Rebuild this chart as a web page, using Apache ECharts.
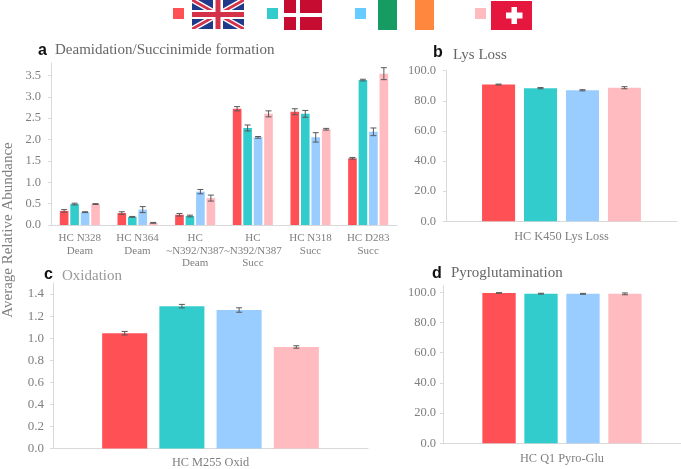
<!DOCTYPE html>
<html><head><meta charset="utf-8">
<style>html,body{margin:0;padding:0;background:#fff}#c{width:681px;height:469px}</style>
<script src="https://cdn.jsdelivr.net/npm/echarts@6/dist/echarts.min.js"></script>
</head><body><div id="c"></div>
<script>
const seriesNames = ['UK', 'Denmark', 'Ireland', 'Switzerland'];
const colors = ['#FF5056', '#33CCCC', '#99CCFF', '#FFBBC0'];
const legendColors = ['#FF5056', '#33CCCC', '#66CCFF', '#FFBBC0'];

const catsA = ['HC N328\nDeam', 'HC N364\nDeam', 'HC\n~N392/N387\nDeam', 'HC\n~N392/N387\nSucc', 'HC N318\nSucc', 'HC D283\nSucc'];
const ukA = [0.33, 0.28, 0.24, 2.72, 2.65, 1.56];
const dkA = [0.49, 0.19, 0.21, 2.27, 2.60, 3.39];
const ieA = [0.30, 0.36, 0.78, 2.05, 2.05, 2.18];
const chA = [0.49, 0.05, 0.63, 2.60, 2.24, 3.54];
const ukErrA = [0.03, 0.03, 0.03, 0.05, 0.07, 0.02];
const dkErrA = [0.02, 0.01, 0.02, 0.07, 0.08, 0.02];
const ieErrA = [0.01, 0.07, 0.05, 0.02, 0.11, 0.09];
const chErrA = [0.01, 0.01, 0.07, 0.07, 0.02, 0.14];
const ticksA = [0, 0.5, 1, 1.5, 2, 2.5, 3, 3.5];

const catsB = ['HC K450 Lys Loss'];
const valsB = [90.8, 88.4, 87.0, 88.7];
const errB = [0.3, 0.4, 0.4, 0.7];
const ticksB = [0, 20, 40, 60, 80, 100];

const catsC = ['HC M255 Oxid'];
const valsC = [1.045, 1.29, 1.255, 0.92];
const errC = [0.016, 0.016, 0.02, 0.011];
const ticksC = [0, 0.2, 0.4, 0.6, 0.8, 1, 1.2, 1.4];

const catsD = ['HC Q1 Pyro-Glu'];
const valsD = [99.6, 99.1, 99.0, 99.0];
const errD = [0.2, 0.3, 0.3, 0.6];
const ticksD = [0, 20, 40, 60, 80, 100];

const panelTitles = ['Deamidation/Succinimide formation', 'Lys Loss', 'Oxidation', 'Pyroglutamination'];
const panelLetters = ['a', 'b', 'c', 'd'];
const yTitle = 'Average Relative Abundance';

const SERIF = '"Liberation Serif", serif';
const GRAY = '#7f7f7f';
const LINE = '#d9d9d9';

const panels = [
  {box:{left:51,top:63,width:346,height:162}, cats:catsA, vals:[ukA,dkA,ieA,chA], errs:[ukErrA,dkErrA,ieErrA,chErrA], max:3.79, ticks:ticksA, bw:0.15, gap:0.21, cap:3, fs:12.5, lm:10, cfs:11, cm:7},
  {box:{left:446,top:70.7,width:231,height:150.6}, cats:catsB, vals:valsB.map(v=>[v]), errs:errB.map(v=>[v]), max:100, ticks:ticksB, bw:0.143, gap:0.27, cap:3, fs:12.5, lm:10, cfs:12.3, cm:9},
  {box:{left:53,top:283,width:315,height:167.7}, cats:catsC, vals:valsC.map(v=>[v]), errs:errC.map(v=>[v]), max:1.5, ticks:ticksC, bw:0.143, gap:0.27, cap:3, fs:13, lm:9, cfs:12.3, cm:8},
  {box:{left:443,top:285.7,width:241,height:157.6}, cats:catsD, vals:valsD.map(v=>[v]), errs:errD.map(v=>[v]), max:104.4, ticks:ticksD, bw:0.14, gap:0.26, cap:3, fs:12.5, lm:7, cfs:12.3, cm:9}
];

const grid = [], xAxis = [], yAxis = [], series = [];
panels.forEach((p, i) => {
  grid.push(p.box);
  xAxis.push({
    type:'category', gridIndex:i, data:p.cats,
    axisLine:{lineStyle:{color:LINE,width:1}}, axisTick:{show:false},
    axisLabel:{color:GRAY,fontFamily:SERIF,fontSize:p.cfs,lineHeight:12.5,margin:p.cm,interval:0,hideOverlap:false}
  });
  yAxis.push({
    type:'value', gridIndex:i, min:0, max:p.max,
    splitLine:{show:false},
    axisLine:{show:true,lineStyle:{color:LINE,width:1}},
    axisTick:{show:true,length:3,lineStyle:{color:LINE},customValues:p.ticks},
    axisLabel:{color:GRAY,fontFamily:SERIF,fontSize:p.fs,margin:p.lm,customValues:p.ticks,formatter:v=>Number(v).toFixed(1)}
  });
  const errData = [];
  seriesNames.forEach((name, s) => {
    series.push({
      type:'bar', name, xAxisIndex:i, yAxisIndex:i,
      data:p.vals[s], barWidth:(p.bw*100)+'%', barGap:(p.gap*100)+'%',
      itemStyle:{color:colors[s]}, emphasis:{disabled:true}, silent:true
    });
    p.vals[s].forEach((v, c) => errData.push([c, s, v - p.errs[s][c], v + p.errs[s][c]]));
  });
  const slot = p.bw * (1 + p.gap);
  series.push({
    type:'custom', name:'err'+i, xAxisIndex:i, yAxisIndex:i, silent:true, z:5,
    encode:{x:0, y:3},
    renderItem(params, api){
      const c = api.value(0), s = api.value(1);
      const band = api.size([1,0])[0];
      const x = api.coord([c, 0])[0] + (s - 1.5) * slot * band;
      const yLo = api.coord([c, api.value(2)])[1];
      const yHi = api.coord([c, api.value(3)])[1];
      const st = {stroke:'#595959', lineWidth:1, fill:null};
      const cap = p.cap;
      return {type:'group', children:[
        {type:'line', shape:{x1:x,y1:yLo,x2:x,y2:yHi}, style:st},
        {type:'line', shape:{x1:x-cap,y1:yLo,x2:x+cap,y2:yLo}, style:st},
        {type:'line', shape:{x1:x-cap,y1:yHi,x2:x+cap,y2:yHi}, style:st}
      ]};
    },
    data:errData
  });
});

const legendAt = [173, 267, 355, 475];
const legend = seriesNames.map((name, i) => ({
  left:legendAt[i], top:8, itemWidth:11, itemHeight:11, padding:0, itemGap:0,
  selectedMode:false, icon:'rect',
  data:[{name, itemStyle:{color:legendColors[i]}}],
  formatter:() => '', textStyle:{fontSize:1}
}));

const titlePos = [[55,42.5,15],[453,48,15],[62,268.5,15],[451,265.5,15]];
const letterPos = [[38,43],[433,45],[44,267],[432,266]];
const title = [];
panelTitles.forEach((t, i) => {
  title.push({text:t,left:titlePos[i][0],top:titlePos[i][1],padding:0,
    textStyle:{fontFamily:SERIF,fontSize:titlePos[i][2],fontWeight:'normal',color:i===2?'#999999':'#666666'}});
  title.push({text:panelLetters[i],left:letterPos[i][0],top:letterPos[i][1],padding:0,
    textStyle:{fontFamily:'"Liberation Sans", sans-serif',fontSize:16,fontWeight:'bold',color:'#111111'}});
});

function rect(x,y,w,h,fill){return {type:'rect',shape:{x,y,width:w,height:h},style:{fill},silent:true};}
function poly(pts,fill){return {type:'polygon',shape:{points:pts},style:{fill},silent:true};}

const ukFlag = {type:'group',x:192,y:0,children:[
  rect(0,0,52,29,'#1f3a8a'),
  poly([[0,0],[6,0],[52,26],[52,29],[46,29],[0,3]],'#ffffff'),
  poly([[52,0],[46,0],[0,26],[0,29],[6,29],[52,3]],'#ffffff'),
  poly([[0,0],[3,0],[52,27.5],[52,29],[49,29],[0,1.5]],'#d4314a'),
  poly([[52,0],[49,0],[0,27.5],[0,29],[3,29],[52,1.5]],'#d4314a'),
  rect(21,0,10,29,'#ffffff'), rect(0,10,52,9,'#ffffff'),
  rect(23.5,0,5,29,'#d4314a'), rect(0,12,52,5,'#d4314a')
]};
const dkFlag = {type:'group',x:284,y:0,children:[
  rect(0,0,38,30,'#c60c30'), rect(12,0,4,30,'#ffffff'), rect(0,13,38,4,'#ffffff')
]};
const ieFlag = {type:'group',x:378,y:0,children:[
  rect(0,0,19,30,'#169b62'), rect(37,0,19,30,'#ff883e')
]};
const chFlag = {type:'group',x:491,y:1,children:[
  rect(0,0,41,29,'#e5173f'), rect(20.5,6,5.5,17,'#ffffff'), rect(15,11.5,16.5,6,'#ffffff')
]};
const yLabel = {type:'text',x:8,y:230,rotation:Math.PI/2,silent:true,
  style:{text:yTitle,font:'15px '+SERIF,fill:GRAY,align:'center',verticalAlign:'middle'}};

const chart = echarts.init(document.getElementById('c'), null, {renderer:'canvas'});
chart.setOption({
  animation:false, backgroundColor:'#ffffff', tooltip:{show:false},
  title, legend, grid, xAxis, yAxis, series,
  graphic:[ukFlag, dkFlag, ieFlag, chFlag, yLabel]
});
</script>
</body></html>
